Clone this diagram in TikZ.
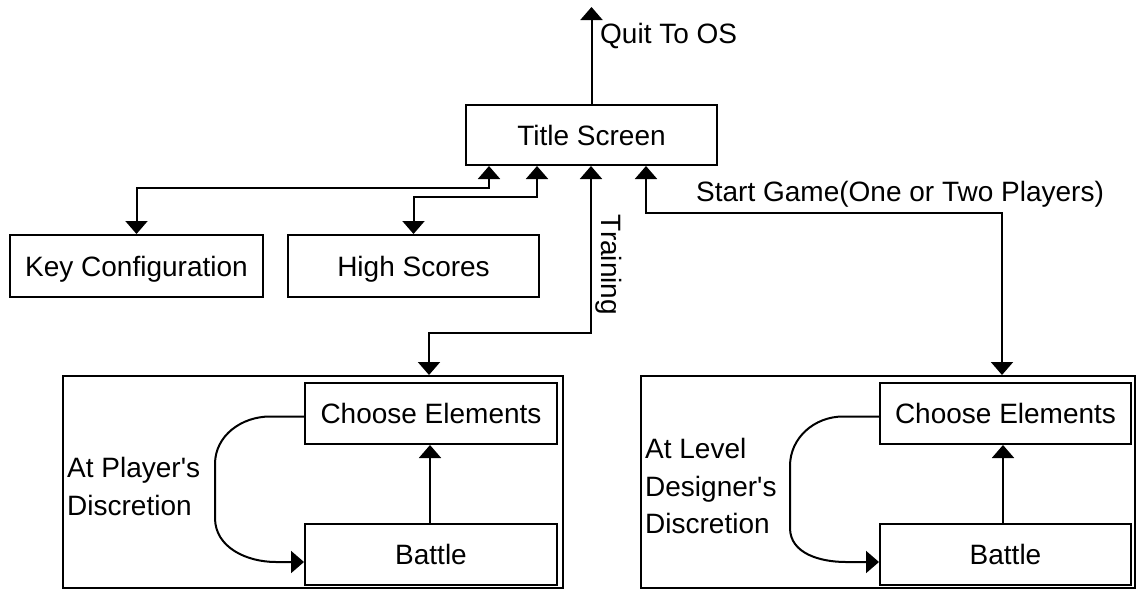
\documentclass[tikz,border=0pt]{standalone}
\usepackage{fontspec}
\setmainfont{Liberation Sans}[Ligatures=TeXOff]
\usetikzlibrary{arrows.meta,calc}
\begin{document}
\begin{tikzpicture}[x=1pt,y=-1pt,
  txt/.style={font=\fontsize{28}{38}\selectfont},
  box/.style={draw, line width=2pt, inner sep=0pt, txt, text height=20pt, text depth=0pt},
  frame/.style={draw, line width=2pt, inner sep=0pt},
  lbl/.style={txt, inner sep=0pt, anchor=base west},
  arr/.style={line width=2pt, -{Triangle[width=22pt,length=13pt]}},
  darr/.style={line width=2pt, {Triangle[width=22pt,length=13pt]}-{Triangle[width=22pt,length=13pt]}}]
\useasboundingbox[fill=white] (0,0) rectangle (1137,590);

% nodes
\node[box, minimum width=251pt, minimum height=60pt] (title) at (591.5,135) {Title Screen};
\node[box, minimum width=253pt, minimum height=62pt] (key) at (136.5,266) {Key Configuration};
\node[box, minimum width=251pt, minimum height=62pt] (high) at (413.5,266) {High Scores};

\node[frame, minimum width=500pt, minimum height=212pt] (outerL) at (313,482) {};
\node[box, minimum width=252pt, minimum height=61pt] (chooseL) at (431,413.5) {Choose Elements};
\node[box, minimum width=252pt, minimum height=61pt] (battleL) at (431,554.5) {Battle};

\node[frame, minimum width=494pt, minimum height=212pt] (outerR) at (888,482) {};
\node[box, minimum width=251pt, minimum height=61pt] (chooseR) at (1005.5,413.5) {Choose Elements};
\node[box, minimum width=251pt, minimum height=61pt] (battleR) at (1005.5,554.5) {Battle};

% labels
\coordinate (quit) at (591.5,7);
\node[lbl] (quitlbl) at (600,43) {Quit To OS};
\node[lbl] (startlbl) at (696,201) {Start Game(One or Two Players)};
\node[txt, inner sep=0pt, rotate=-90] (trainlbl) at (609,265) {Training};
\node[lbl] (pl1) at (67,477) {At Player's};
\node[lbl] (pl2) at (67,515) {Discretion};
\node[lbl] (ld1) at (645,458) {At Level};
\node[lbl] (ld2) at (645,496) {Designer's};
\node[lbl] (ld3) at (645,533) {Discretion};

% connectors
\draw[arr] (title.north) -- (quit);
\draw[darr] ($(title.south west)+(24,0)$) -- ++(0,22) -| (key.north);
\draw[darr] ($(title.south west)+(72,0)$) -- ++(0,31) -| (high.north);
\draw[darr] ($(title.south west)+(126,0)$) -- ++(0,167) -| ($(outerL.north west)+(367,0)$);
\draw[darr] ($(title.south west)+(181,0)$) -- ++(0,47) -| ($(outerR.north west)+(362,0)$);

\draw[arr] ($(battleL.north)+(-1,0)$) -- ($(chooseL.south)+(-1,0)$);
\draw[arr] ($(battleR.north)+(-2.5,0)$) -- ($(chooseR.south)+(-2.5,0)$);

\draw[arr] ($(chooseL.west)+(0,3)$) -- ++(-34,0) to[out=180,in=90] (215,464) -- (215,518) to[out=-90,in=180] (276,562) -- ($(battleL.west)+(0,7.5)$);
\draw[arr] ($(chooseR.west)+(0,3)$) -- ++(-36,0) to[out=180,in=90] (790,466) -- (790,528) to[out=-90,in=180] (846,562) -- ($(battleR.west)+(0,7.5)$);
\end{tikzpicture}
\end{document}
